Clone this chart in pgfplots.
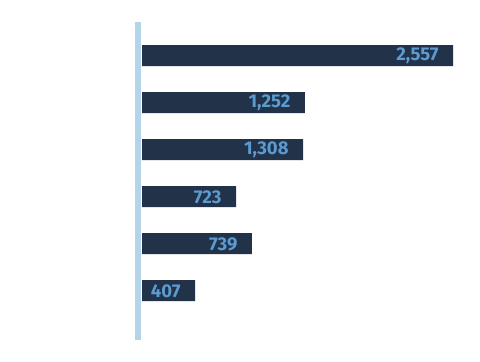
\documentclass[border=0pt]{standalone}
\usepackage{pgfplots}
\pgfplotsset{compat=1.18}
\usepackage{fontspec}
\setmainfont{Fira Sans}
\definecolor{barc}{HTML}{213249}
\definecolor{labc}{HTML}{5B9BD0}
\definecolor{linec}{HTML}{B4D4EA}
\begin{document}
\begin{tikzpicture}
\begin{axis}[
  scale only axis, width=480bp, height=362bp,
  hide axis,
  xmin=-1167.5, xmax=2779.0,
  ymin=-1.181, ymax=6.521, y dir=reverse,
  xbar, bar width=21bp, bar shift=0pt,
  clip=false,
  point meta=explicit symbolic,
  nodes near coords,
  every node near coord/.append style={anchor=east, xshift=-11bp, yshift=-0.5bp, text=labc,
    font=\fontsize{18.5bp}{21bp}\selectfont\bfseries},
]
\path (rel axis cs:0,0) rectangle (rel axis cs:1,1);
\draw[linec, line width=6bp] (axis cs:-32.9,-0.713) -- (axis cs:-32.9,6.053);
\addplot[fill=barc, draw=none] coordinates {
  (2557,0) [2,557]
  (1340,1) [1,252]
  (1324,2) [1,308]
  (773,3) [723]
  (904,4) [739]
  (436,5) [407]
};
\end{axis}
\end{tikzpicture}
\end{document}
